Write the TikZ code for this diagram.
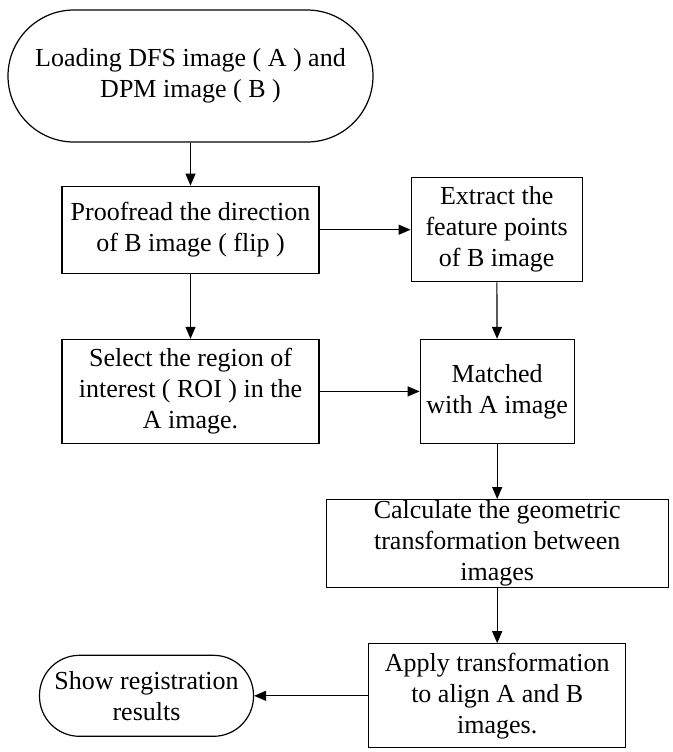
\documentclass[tikz,border=0pt]{standalone}
\usepackage{fontspec}
\setmainfont{Liberation Serif}
\usetikzlibrary{arrows.meta,positioning}

\begin{document}
\begin{tikzpicture}[
        stage/.style={
            draw=black,
            line width=0.6pt,
            align=center,
            inner sep=1.5pt,
            font=\fontsize{13pt}{15.5pt}\selectfont
        },
        terminal/.style={stage, rounded corners=#1},
        flow/.style={-{Triangle[length=6pt,width=5pt]}, line width=0.6pt, draw=black},
        node distance=20pt and 45pt
    ]
        \useasboundingbox (0,0) rectangle (336.5pt,-376pt);

        \node[terminal=33pt, minimum width=182.5pt, minimum height=66pt] (start) at (95.25pt,-38pt) {Loading DFS image ( A ) and\\DPM image ( B )};
        \node[stage, minimum width=128.5pt, minimum height=43.5pt, below=21.5pt of start] (proofread) {Proofread the direction\\of B image ( flip )};
        \node[stage, minimum width=85.5pt, minimum height=52pt, right=45.5pt of proofread] (extract) {Extract the\\feature points\\of B image};
        \node[stage, minimum width=128.5pt, minimum height=52pt, below=32.5pt of proofread] (select) {Select the region of\\interest ( ROI ) in the\\A image.};
        \node[stage, minimum width=77pt, minimum height=52pt, right=50pt of select] (matched) {Matched\\with A image};
        \node[stage, minimum width=171pt, minimum height=44pt, inner sep=0pt, below=27.5pt of matched] (calculate) {Calculate the geometric\\transformation between\\images};
        \node[stage, minimum width=128.5pt, minimum height=52pt, below=27.5pt of calculate] (apply) {Apply transformation\\to align A and B\\images.};
        \node[terminal=20pt, minimum width=107pt, minimum height=40.5pt, left=57pt of apply] (show) {Show registration\\results};

        \draw[flow] (start) -- (proofread);
        \draw[flow] (proofread.east) -- (proofread.east -| extract.west);
        \draw[flow] (proofread) -- (select);
        \draw[flow] (extract) -- (matched);
        \draw[flow] (select) -- (matched);
        \draw[flow] (matched) -- (calculate);
        \draw[flow] (calculate) -- (apply);
        \draw[flow] (apply) -- (show);
    \end{tikzpicture}
\end{document}
